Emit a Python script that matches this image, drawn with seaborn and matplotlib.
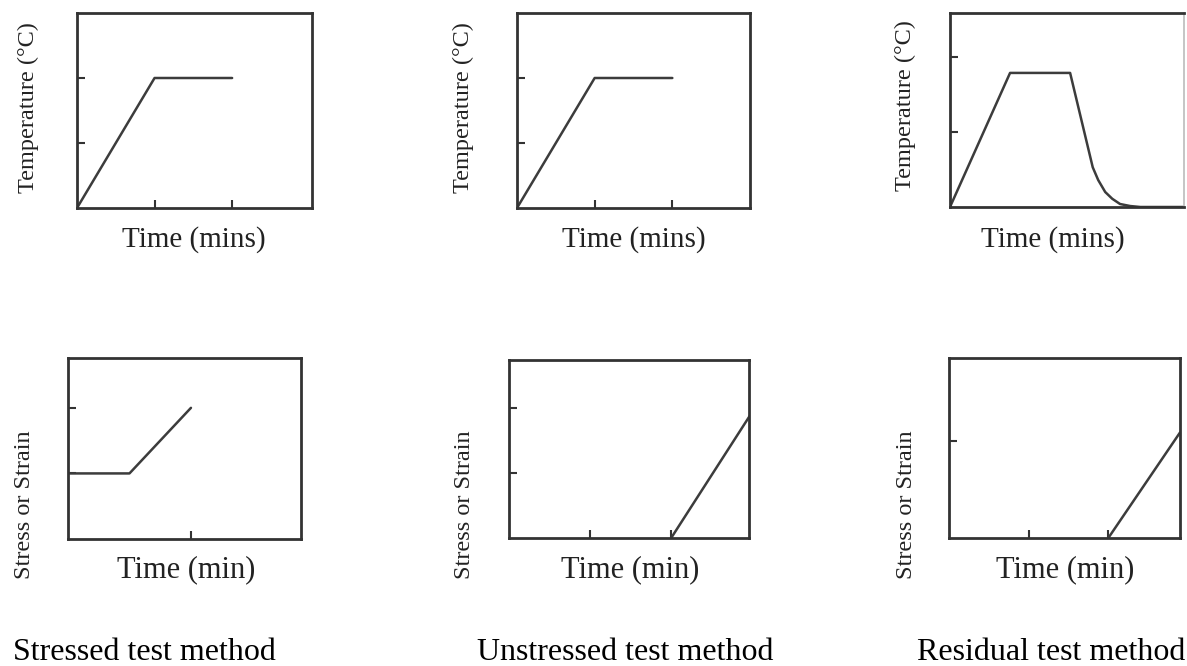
import matplotlib
matplotlib.use("Agg")
import matplotlib.pyplot as plt
import seaborn as sns
import pandas as pd

# ---- data (schematic values) ----
heat_time = [0, 1, 2]
heat_temp = [0, 2, 2]

residual_time = [0, 0.77, 1.54, 1.83, 1.90, 1.99, 2.08, 2.18, 2.31, 2.44, 3.0]
residual_temp = [0, 1.79, 1.79, 0.53, 0.36, 0.20, 0.11, 0.04, 0.013, 0.0, 0.0]

stressed_time = [0, 1, 2]
stressed_val = [1, 1, 2]

unstressed_time = [2, 3]
unstressed_val = [0, 1.94]

residual_load_time = [2, 2.9]
residual_load_val = [0, 1.09]

captions = ["Stressed test method", "Unstressed test method", "Residual test method"]
temp_label = "Temperature (°C)"
stress_label = "Stress or Strain"
time_label_top = "Time (mins)"
time_label_bottom = "Time (min)"

# ---- figure ----
sns.set_style("white")
plt.rcParams["font.family"] = ["Liberation Serif", "DejaVu Serif"]

W, H = 1187, 666
fig = plt.figure(figsize=(W / 100, H / 100), dpi=100)

LINE = "#3c3c3c"
SPINE = "#333333"


def add_axes(left, right, top, bottom):
    return fig.add_axes([left / W, 1 - bottom / H, (right - left) / W, (bottom - top) / H])


def style(ax, xlim, ylim, xticks, yticks):
    ax.set_xlim(*xlim)
    ax.set_ylim(*ylim)
    ax.set_xticks(xticks)
    ax.set_yticks(yticks)
    ax.tick_params(direction="in", length=6, width=1.5, color=SPINE,
                   labelbottom=False, labelleft=False,
                   bottom=True, left=True, top=False, right=False)
    for s in ax.spines.values():
        s.set_color(SPINE)
        s.set_linewidth(2)
    ax.set_facecolor("white")


def label(ax, xl, xpx, ypx, yl, ylx, yly, xsize, ysize):
    ax.set_xlabel(xl, fontsize=xsize, color="#222222", va="center", ha="center")
    ax.xaxis.set_label_coords(xpx / W, 1 - ypx / H, transform=fig.transFigure)
    ax.set_ylabel(yl, fontsize=ysize, color="#222222", va="center", ha="center")
    ax.yaxis.set_label_coords(ylx / W, 1 - yly / H, transform=fig.transFigure)


def draw(ax, xs, ys):
    df = pd.DataFrame({"t": xs, "v": ys})
    sns.lineplot(data=df, x="t", y="v", ax=ax, sort=False, estimator=None,
                 color=LINE, linewidth=1.8)


# top row
ax1 = add_axes(77, 312, 13, 208)
draw(ax1, heat_time, heat_temp)
style(ax1, (0, 3.03), (0, 3.0), [1, 2], [1, 2])
label(ax1, time_label_top, 194, 240, temp_label, 28, 108, 21, 17.5)

ax2 = add_axes(517, 750, 13, 208)
draw(ax2, heat_time, heat_temp)
style(ax2, (0, 3.0), (0, 3.0), [1, 2], [1, 2])
label(ax2, time_label_top, 634, 240, temp_label, 463, 108, 21, 17.5)

ax3 = add_axes(950, 1184, 13, 207)
draw(ax3, residual_time, residual_temp)
style(ax3, (0, 3.0), (0, 2.59), [], [1, 2])
ax3.spines["right"].set_color("#bbbbbb")
ax3.spines["right"].set_linewidth(1.2)
label(ax3, time_label_top, 1053, 240, temp_label, 905, 106, 21, 17.5)

# bottom row
ax4 = add_axes(68, 301, 358, 539)
draw(ax4, stressed_time, stressed_val)
style(ax4, (0, 3.79), (0, 2.76), [2], [1, 2])
label(ax4, time_label_bottom, 186, 570, stress_label, 25, 505, 22, 17.5)

ax5 = add_axes(509, 749, 360, 538)
draw(ax5, unstressed_time, unstressed_val)
style(ax5, (0, 2.96), (0, 2.74), [1, 2], [1, 2])
label(ax5, time_label_bottom, 630, 570, stress_label, 465, 505, 22, 17.5)

ax6 = add_axes(949, 1180, 358, 538)
draw(ax6, residual_load_time, residual_load_val)
style(ax6, (0, 2.9), (0, 1.86), [1, 2], [1])
label(ax6, time_label_bottom, 1065, 570, stress_label, 907, 505, 22, 17.5)

# captions
for txt, cx in zip(captions, [144, 625, 1051]):
    fig.text(cx / W, 1 - 653 / H, txt, fontsize=23, color="black",
             ha="center", va="center")

fig.savefig("out.png", dpi=100)
